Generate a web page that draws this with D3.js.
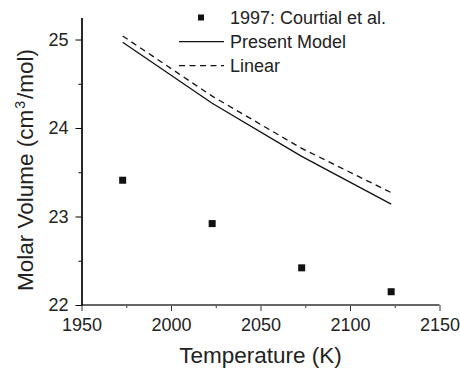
<!DOCTYPE html>
<html>
<head>
<meta charset="utf-8">
<script src="https://cdn.jsdelivr.net/npm/d3@7"></script>
<style>
  body { margin: 0; background: #fff; }
  svg text { font-family: "Liberation Sans", Arial, sans-serif; fill: #222; }
</style>
</head>
<body>
<div id="chart"></div>
<script>
// data
var tempK = [1973, 2023, 2073, 2123]
var courtial = [23.41, 22.92, 22.42, 22.15]
var presentModel = [24.97, 24.28, 23.68, 23.14]
var linearModel = [25.04, 24.36, 23.77, 23.27]
var xTicks = [1950, 2000, 2050, 2100, 2150]
var yTicks = [22, 23, 24, 25]
var legendNames = ['1997: Courtial et al.', 'Present Model', 'Linear']

var width = 460, height = 371

var svg = d3.select('#chart')
  .append('svg')
  .attr('width', width)
  .attr('height', height)

var x = d3.scaleLinear().domain([1950, 2150]).range([81.5, 439.5])
var y = d3.scaleLinear().domain([22, 25.25]).range([305, 17.4])

// x axis (grey, ticks down)
var gx = svg.append('g').attr('transform', 'translate(0,305)')
gx.call(d3.axisBottom(x).tickValues(xTicks).tickSize(6).tickPadding(7).tickFormat(d3.format('d')))
gx.append('g').call(d3.axisBottom(x).tickValues([1975, 2025, 2075, 2125]).tickSize(3).tickFormat(''))
gx.selectAll('.domain').remove()
gx.append('line')
  .attr('x1', x(1950)).attr('x2', x(2150))
  .attr('stroke', '#666').attr('stroke-width', 2)
gx.selectAll('.tick line').attr('stroke', '#333')
gx.selectAll('.tick text').attr('font-size', 18).attr('font-family', null)

// y axis (black, ticks left)
var gy = svg.append('g').attr('transform', 'translate(81.5,0)')
gy.call(d3.axisLeft(y).tickValues(yTicks).tickSize(6).tickPadding(7).tickSizeOuter(0).tickFormat(d3.format('d')))
gy.append('g').call(d3.axisLeft(y).tickValues([22.5, 23.5, 24.5]).tickSize(3).tickFormat('').tickSizeOuter(0))
gy.selectAll('.domain').attr('stroke', '#000').attr('stroke-width', 1.2)
gy.selectAll('.tick text').attr('font-size', 18).attr('font-family', null)

// axis titles
svg.append('text')
  .attr('x', 260.5).attr('y', 363)
  .attr('text-anchor', 'middle')
  .attr('font-size', 22.5)
  .text('Temperature (K)')

var yl = svg.append('text')
  .attr('transform', 'translate(33,170) rotate(-90)')
  .attr('text-anchor', 'middle')
  .attr('font-size', 22.5)
yl.append('tspan').text('Molar Volume (cm')
yl.append('tspan').attr('font-size', 14).attr('dx', 1).attr('dy', '-0.6em').text('3')
yl.append('tspan').attr('dx', 2).attr('dy', '0.37em').text('/mol)')

// model lines
var line = d3.line()
  .x(function(d, i) { return x(tempK[i]) })
  .y(function(d) { return y(d) })

svg.append('path')
  .datum(linearModel)
  .attr('fill', 'none')
  .attr('stroke', '#111')
  .attr('stroke-width', 1.3)
  .attr('stroke-dasharray', '6,4.5')
  .attr('d', line)

svg.append('path')
  .datum(presentModel)
  .attr('fill', 'none')
  .attr('stroke', '#111')
  .attr('stroke-width', 1.3)
  .attr('d', line)

// measured points
svg.selectAll('rect.pt')
  .data(courtial)
  .enter()
  .append('rect')
  .attr('class', 'pt')
  .attr('x', function(d, i) { return x(tempK[i]) - 3.5 })
  .attr('y', function(d) { return y(d) - 3.5 })
  .attr('width', 7)
  .attr('height', 7)
  .attr('fill', '#111')

// legend
var lg = svg.append('g')
lg.append('rect').attr('x', 198).attr('y', 14.5).attr('width', 6).attr('height', 6).attr('fill', '#111')
lg.append('line').attr('x1', 179).attr('x2', 224).attr('y1', 41.7).attr('y2', 41.7)
  .attr('stroke', '#111').attr('stroke-width', 1.3)
lg.append('line').attr('x1', 179).attr('x2', 224).attr('y1', 65.7).attr('y2', 65.7)
  .attr('stroke', '#111').attr('stroke-width', 1.3).attr('stroke-dasharray', '6,4.5')
legendNames.forEach(function(name, i) {
  lg.append('text')
    .attr('x', 230).attr('y', 24 + i * 24.2)
    .attr('font-size', 18)
    .text(name)
})
</script>
</body>
</html>
